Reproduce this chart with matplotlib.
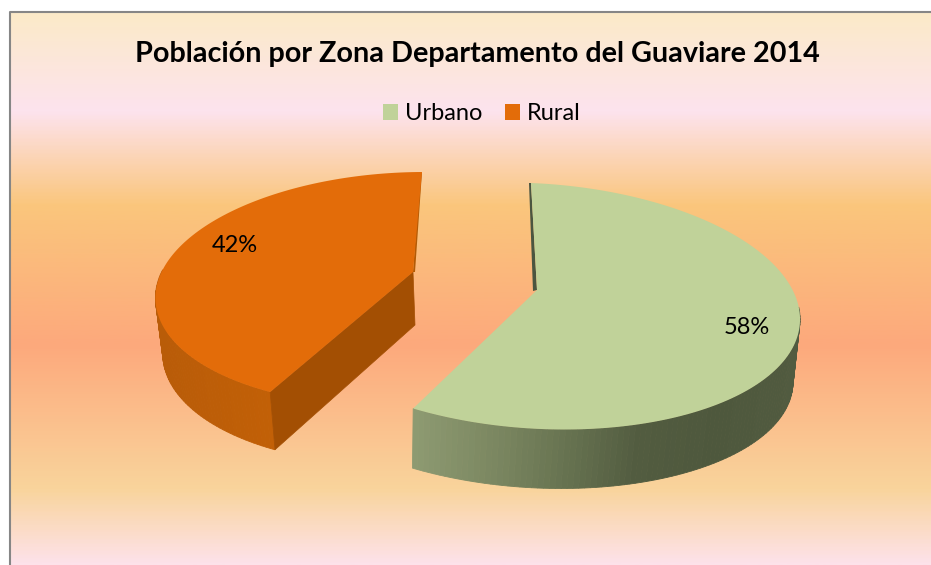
import numpy as np
import matplotlib
matplotlib.use('Agg')
import matplotlib.pyplot as plt
from matplotlib.colors import LinearSegmentedColormap, to_rgb
from matplotlib.patches import Patch, Polygon

# Datos del grafico
title = 'Población por Zona Departamento del Guaviare 2014'
categories = ['Urbano', 'Rural']
shares = [58, 42]
colors = ['#c0d299', '#e36c09']

plt.rcParams['font.family'] = ['Lato', 'DejaVu Sans']

W, H = 931, 565
fig = plt.figure(figsize=(W / 100, H / 100), dpi=100)
ax = fig.add_axes([0, 0, 1, 1])
ax.set_xlim(0, W)
ax.set_ylim(H, 0)
ax.axis('off')

# Fondo degradado del area del grafico
left, top = 10, 12
stops = [(12, '#fbeac8'), (110, '#fde3ee'), (205, '#fac67c'), (345, '#fda97c'),
         (490, '#f9d49c'), (565, '#fde2ea')]
pos = [(y - top) / (H - top) for y, c in stops]
cmap = LinearSegmentedColormap.from_list('fondo', list(zip(pos, [c for y, c in stops])))
ax.imshow(np.linspace(0, 1, 400).reshape(-1, 1), cmap=cmap, aspect='auto',
          extent=(left, W, H, top), zorder=0)
ax.set_xlim(0, W)
ax.set_ylim(H, 0)
ax.plot([left, left, W], [H, top, top], color='#868686', lw=1.5, zorder=1)


def ring(t, g):
    # punto de la elipse (cx, cy, a, b, d, e) para el angulo t, en sentido horario desde arriba
    cx, cy, a, b, d, e = g
    return np.column_stack([cx + a * np.sin(t) + b * np.cos(t),
                            cy - d * np.cos(t) + e * np.sin(t)])


def wall(t, g_top, g_bot, xs, cols):
    # pared lateral con degradado horizontal
    up = ring(t, g_top)
    low = ring(t, g_bot)
    rgb = np.array([to_rgb(c) for c in cols])
    for i in range(len(t) - 1):
        xm = (up[i, 0] + up[i + 1, 0]) / 2
        c = [np.interp(xm, xs, rgb[:, k]) for k in range(3)]
        ax.add_patch(Polygon([up[i], up[i + 1], low[i + 1], low[i]], fc=c, ec=c, lw=0.6, zorder=2))


# Angulos de cada porcion, a partir de los porcentajes
ends = np.cumsum(shares) / 100 * 2 * np.pi
t_urb = np.linspace(0, ends[0], 160)
t_rur = np.linspace(ends[0], ends[1], 120)

# Porcion Urbano
urb_top = (536, 306, 264, -5, 123, 11)
urb_bot = (535, 370, 258, -2, 118, 11)
urb_apex = (537, 290)
wall(t_urb[t_urb > np.radians(85)], urb_top, urb_bot,
     [412, 500, 570, 640, 720, 800],
     ['#8e9b72', '#7a8660', '#667250', '#525c40', '#4e583d', '#515b40'])
arc = ring(t_urb, urb_top)
ax.add_patch(Polygon([arc[0] + [-2, 0], (urb_apex[0] - 4, urb_apex[1] + 1), urb_apex, arc[0]],
                     fc='#4b5540', ec='none', zorder=3))
ax.add_patch(Polygon(np.vstack([[urb_apex], arc]), fc=colors[0], ec='none', zorder=4))

# Porcion Rural
rur_top = (405, 289, 249, 17, 117, -1)
rur_bot = (396, 349, 233, 10, 115, 0)
rur_apex = (413, 272)
rur_apex_low = (415, 325)
wall(t_rur[t_rur < np.radians(280)], rur_top, rur_bot, [160, 270], ['#b95c08', '#c26007'])
arc = ring(t_rur, rur_top)
low = ring(t_rur, rur_bot)
ax.add_patch(Polygon([rur_apex, arc[0], low[0], rur_apex_low], fc='#a34f03', ec='#a34f03', lw=0.5, zorder=3))
ax.add_patch(Polygon([arc[-1], (rur_apex_low[0], rur_apex[1]), rur_apex, arc[-1] + [-2, 3]],
                     fc='#b35a05', ec='none', zorder=3))
ax.add_patch(Polygon(np.vstack([[rur_apex], arc]), fc=colors[1], ec='none', zorder=4))

# Etiquetas de porcentaje
ax.text(747, 327, f'{shares[0]}%', ha='center', va='center', fontsize=17, color='black', zorder=5)
ax.text(235, 245, f'{shares[1]}%', ha='center', va='center', fontsize=17, color='black', zorder=5)

ax.text(477, 54, title, ha='center', va='center', fontsize=20.7, fontweight='bold', color='black')

handles = [Patch(fc=c, ec='none') for c in colors]
fig.legend(handles, categories, loc='center', bbox_to_anchor=(482 / W, 1 - 114 / H), ncol=2,
           frameon=False, fontsize=17, handlelength=0.64, handleheight=0.64,
           handletextpad=0.3, columnspacing=0.93)

fig.savefig('out.png', dpi=100)
